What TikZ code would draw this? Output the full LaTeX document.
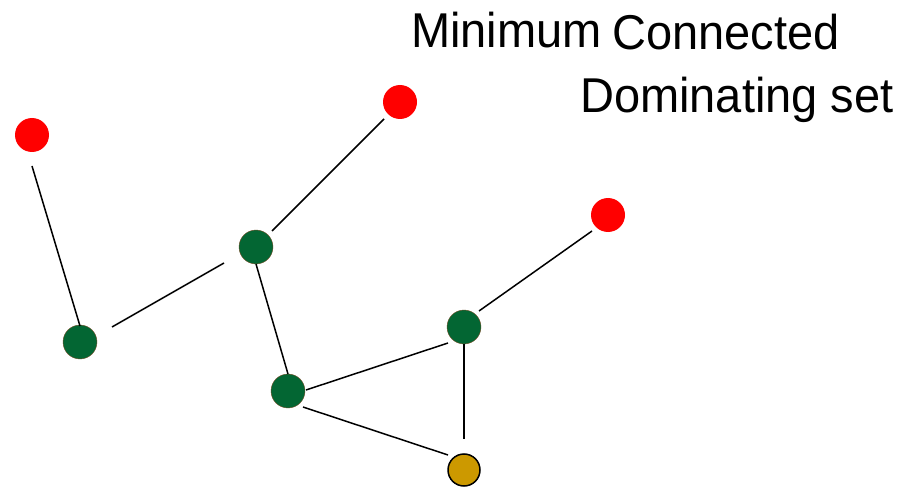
\documentclass[tikz,border=0pt]{standalone}
\usepackage{fontspec}
\usepackage{graphicx}
\setmainfont{Liberation Sans}
\definecolor{dgreen}{RGB}{3,102,51}
\definecolor{gold}{RGB}{204,153,0}
\newcommand{\tallbox}[1]{\scalebox{1}[1.04]{#1}}
\begin{document}
\begin{tikzpicture}[x=1pt,y=-1pt,
  vert/.style={circle,inner sep=0pt,minimum size=34pt},
  rednode/.style={vert,fill=red},
  greennode/.style={vert,fill=dgreen,draw=brown!60!black,line width=0.4pt},
  goldnode/.style={vert,fill=gold,draw=black,line width=1.5pt,minimum size=32pt},
  edge/.style={draw=black,line width=1.5pt},
  lbl/.style={inner sep=0pt,anchor=base west,font=\fontsize{47}{50}\selectfont}]
\useasboundingbox (0,0) rectangle (903,492);
\node[rednode] (r1) at (32,135) {};
\node[rednode] (r2) at (400,102) {};
\node[rednode] (r3) at (608,215) {};
\node[greennode] (gA) at (80,342) {};
\node[greennode] (gB) at (256,247) {};
\node[greennode] (gC) at (288,391) {};
\node[greennode] (gD) at (464,327) {};
\node[goldnode] (y1) at (464,470) {};
% connector end points (lines stop short of the circles)
\coordinate (e1a) at (32,166);  \coordinate (e1b) at (80,326);
\coordinate (e2a) at (112,327); \coordinate (e2b) at (224,263);
\coordinate (e3a) at (272,231); \coordinate (e3b) at (384,119);
\coordinate (e4a) at (256,264); \coordinate (e4b) at (288,374);
\coordinate (e5a) at (306,390); \coordinate (e5b) at (448,343);
\coordinate (e6a) at (303,407); \coordinate (e6b) at (448,455);
\coordinate (e7a) at (464,344); \coordinate (e7b) at (464,439);
\coordinate (e8a) at (479,311); \coordinate (e8b) at (592,231);
\draw[edge] (e1a) -- (e1b);
\draw[edge] (e2a) -- (e2b);
\draw[edge] (e3a) -- (e3b);
\draw[edge] (e4a) -- (e4b);
\draw[edge] (e5a) -- (e5b);
\draw[edge] (e6a) -- (e6b);
\draw[edge] (e7a) -- (e7b);
\draw[edge] (e8a) -- (e8b);
\node[lbl] (t1) at (411,48) {\tallbox{Minimum}};
\node[lbl] (t2) at (612,50) {\tallbox{Connected}};
\node[lbl] (t3) at (580,113) {\tallbox{Dominating set}};
\end{tikzpicture}
\end{document}
